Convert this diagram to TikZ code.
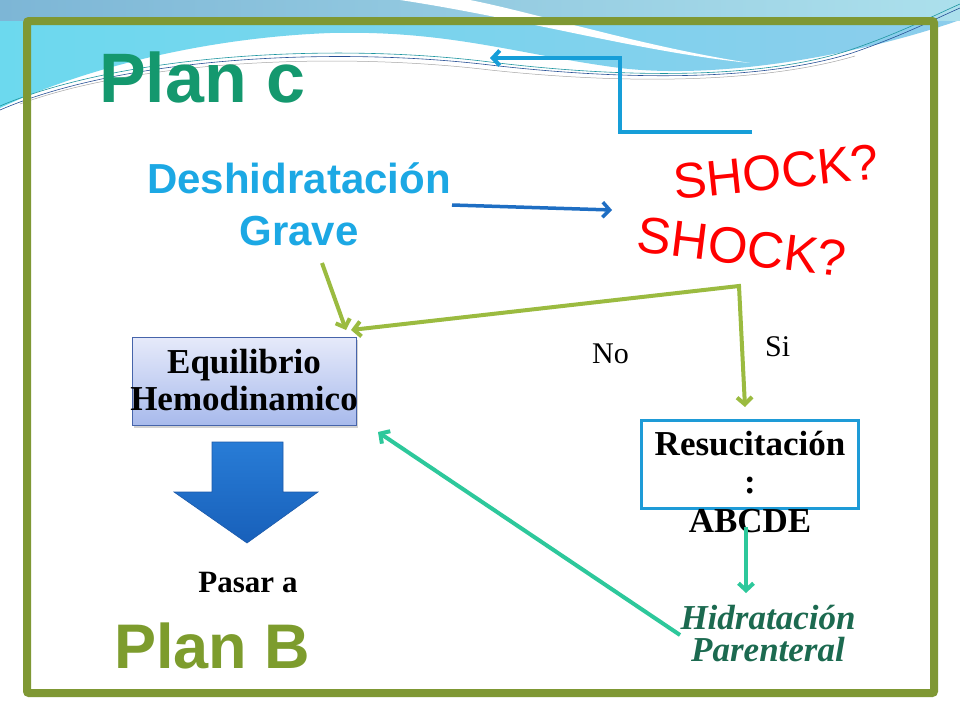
\documentclass[tikz,border=0pt]{standalone}
\usepackage{fontspec}
\setmainfont{Liberation Serif}
\newfontfamily\arialfont{Liberation Sans}
\usetikzlibrary{arrows.meta,shadows}
\definecolor{marco}{RGB}{127,152,52}
\definecolor{planc}{RGB}{20,152,110}
\definecolor{planb}{RGB}{125,156,45}
\definecolor{celeste}{RGB}{28,168,228}
\definecolor{azulflecha}{RGB}{30,110,195}
\definecolor{azulcodo}{RGB}{22,158,216}
\definecolor{verdeflecha}{RGB}{155,187,64}
\definecolor{turquesa}{RGB}{45,200,155}
\definecolor{verdeosc}{RGB}{28,106,80}
\definecolor{bordeazul}{RGB}{30,155,215}
\definecolor{fondocian}{RGB}{108,217,238}
\definecolor{fondoazul}{RGB}{140,205,236}
\definecolor{bandaizq}{RGB}{125,182,214}
\definecolor{bandader}{RGB}{172,224,236}
\definecolor{lineateal}{RGB}{30,150,160}
\definecolor{lineaazul}{RGB}{40,80,150}
\definecolor{bordecaja}{RGB}{70,100,170}
\definecolor{cajaarriba}{RGB}{230,234,250}
\definecolor{cajaabajo}{RGB}{168,186,236}
\definecolor{bloquearriba}{RGB}{40,124,214}
\definecolor{bloqueabajo}{RGB}{24,96,186}
\definecolor{bloqueborde}{RGB}{28,90,170}
\begin{document}
\begin{tikzpicture}[x=1pt,y=-1pt,
  >={Straight Barb[length=7pt,width=15pt]},
  flecha/.style={->,line width=4pt},
  titulo/.style={anchor=base west,inner sep=0pt},
  texto/.style={anchor=base,inner sep=0pt,align=center}]
\useasboundingbox (0,0) rectangle (960,720);
\fill[white] (0,0) rectangle (960,720);
%Fondo
\shade[left color=fondocian,right color=fondoazul]
  (0,0) -- (0,108) .. controls (80,70) and (200,38) .. (330,33)
  .. controls (450,30) and (520,55) .. (620,68)
  .. controls (720,80) and (860,55) .. (960,20) -- (960,0) -- cycle;
\shade[left color=bandaizq,right color=bandader] (0,0) rectangle (960,20);
\fill[white] (400,0) .. controls (520,18) and (640,52) .. (750,63)
  .. controls (640,46) and (540,14) .. (470,0) -- cycle;
\draw[lineateal,line width=0.6pt]
  (0,106) .. controls (120,55) and (330,42) .. (490,62)
  .. controls (620,78) and (760,80) .. (850,50) .. controls (900,33) and (935,15) .. (960,4);
\draw[lineaazul,line width=0.6pt]
  (0,110) .. controls (120,58) and (330,46) .. (490,65)
  .. controls (620,80) and (760,82) .. (852,53) .. controls (902,36) and (937,18) .. (960,8);
\draw[gray!70,line width=0.5pt]
  (20,104) .. controls (140,60) and (340,52) .. (490,70)
  .. controls (620,84) and (760,84) .. (855,56);
%Marco
\draw[marco,line width=8pt,rounded corners=2pt] (27,21) rectangle (934,693);
%Textos
\node[titulo,font=\arialfont\bfseries\fontsize{70}{70}\selectfont,text=planc] (planc) at (99,102) {Plan c};
\node[texto,font=\arialfont\bfseries\fontsize{42}{52}\selectfont,text=celeste] (desh) at (299,245) {Deshidratación\\Grave};
\node[rotate=6,inner sep=0pt,font=\arialfont\fontsize{50}{50}\selectfont,text=red] (shock1) at (776,172) {SHOCK?};
\node[rotate=-7,inner sep=0pt,font=\arialfont\fontsize{51}{51}\selectfont,text=red] (shock2) at (742,247) {SHOCK?};
\node[titulo,font=\fontsize{30}{30}\selectfont] (no) at (592,363) {No};
\node[titulo,font=\fontsize{30}{30}\selectfont] (si) at (765,356) {Si};
%Cajas
\node[draw=bordecaja,line width=0.8pt,top color=cajaarriba,bottom color=cajaabajo,
  minimum width=224pt,minimum height=88pt,
  drop shadow={shadow xshift=2pt,shadow yshift=-3pt,opacity=0.35}] (equi) at (244,381) {};
\node[texto,font=\bfseries\fontsize{35}{37}\selectfont] (equitxt) at (244,410) {Equilibrio\\Hemodinamico};
\node[draw=bordeazul,line width=3pt,fill=white,minimum width=217pt,minimum height=88pt] (res) at (750,464) {};
\node[texto,font=\bfseries\fontsize{35}{38.5}\selectfont] (restxt) at (750,532) {Resucitación\\:\\ABCDE};
\node[texto,font=\bfseries\itshape\fontsize{35}{32}\selectfont,text=verdeosc] (hidra) at (768,661) {Hidratación\\Parenteral};
\node[texto,font=\bfseries\fontsize{31}{31}\selectfont] (pasar) at (248,592) {Pasar a};
\node[titulo,font=\arialfont\bfseries\fontsize{63}{63}\selectfont,text=planb] (planb) at (114,668) {Plan B};
%Flecha bloque
\shade[top color=bloquearriba,bottom color=bloqueabajo,draw=bloqueborde,line width=0.6pt]
  (212,442) -- (283,442) -- (283,492) -- (318,492) -- (247,543) -- (174,492) -- (212,492) -- cycle;
%Flechas
\coordinate (c1) at (752,132);
\coordinate (c2) at (490,58);
\coordinate (d1) at (452,205);
\coordinate (d2) at (612,210);
\coordinate (g1) at (322,263);
\coordinate (g2) at (346,330);
\coordinate (g3) at (351,330);
\coordinate (g4) at (739,286);
\coordinate (g5) at (745,407);
\coordinate (t1) at (746,527);
\coordinate (t2) at (746,593);
\coordinate (h1) at (680,635);
\coordinate (h2) at (378,432);
\draw[flecha,azulcodo] (c1) -- ++(-132,0) |- (c2);
\draw[flecha,azulflecha,line width=3.5pt] (d1) -- (d2);
\draw[flecha,verdeflecha] (g1) -- (g2);
\draw[flecha,verdeflecha,<->] (g3) -- (g4) -- (g5);
\draw[flecha,turquesa] (t1) -- (t2);
\draw[flecha,turquesa] (h1) -- (h2);
\end{tikzpicture}
\end{document}
